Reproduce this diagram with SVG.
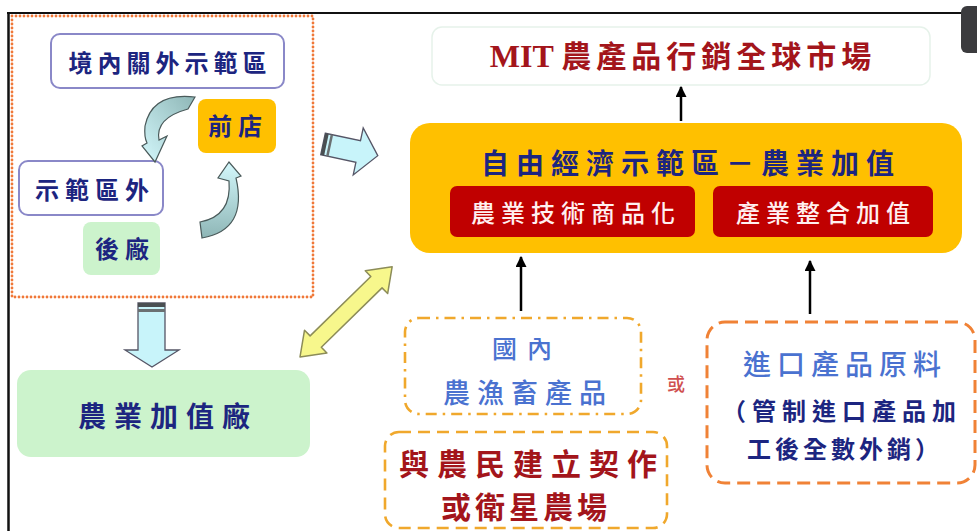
<svg xmlns="http://www.w3.org/2000/svg" width="977" height="531" viewBox="0 0 977 531">
<style>
.cjk{font-family:"Noto Sans CJK TC","Noto Sans CJK SC",sans-serif;text-anchor:middle}
.navy{fill:#1c2580;font-weight:700}
.blue{fill:#4a72d0;font-weight:500}
.dred{fill:#a3151b;font-weight:700}
.white{fill:#fff0f0;font-weight:500}
.dot{fill:none;stroke:#f07838;stroke-width:2.8;stroke-dasharray:0 4;stroke-linecap:round}
.purp{fill:#fff;stroke:#8a88c8;stroke-width:2}
.gold{fill:#ffc000}
.green{fill:#ccf3cc}
.blk{stroke:#000;stroke-width:2.5;fill:none;marker-end:url(#ah)}
.curv{stroke:#4a5a5a;stroke-width:1.2}
.blockc{fill:#c8f4fa;stroke:#556;stroke-width:1.3}
</style>
<defs>
<marker id="ah" viewBox="0 0 10 10" refX="9" refY="5" markerWidth="4.4" markerHeight="4.4" orient="auto" markerUnits="strokeWidth">
<path d="M0,0 L10,5 L0,10 Z" fill="#000"/>
</marker>
<linearGradient id="cg" x1="0" y1="1" x2="1" y2="0">
<stop offset="0" stop-color="#d4f8fc"/>
<stop offset="1" stop-color="#8eb6b6"/>
</linearGradient>
<linearGradient id="cg2" x1="0" y1="1" x2="0" y2="0">
<stop offset="0" stop-color="#8eb6b6"/>
<stop offset="1" stop-color="#d4f8fc"/>
</linearGradient>
</defs>
<rect width="977" height="531" fill="#fff"/>
<g id="frame">
<line x1="7" y1="13" x2="962" y2="13" stroke="#111" stroke-width="2"/>
<line x1="8.5" y1="12" x2="8.5" y2="531" stroke="#111" stroke-width="2.5"/>
<rect x="961" y="6" width="22" height="47" rx="6" fill="#3b3b3e"/>
</g>
<g id="left-zone">
<rect class="dot" x="12" y="16" width="301" height="281"/>
</g>
<g id="n-jingnei">
<rect class="purp" x="51" y="34" width="233" height="54" rx="9"/>
<text class="cjk navy" x="170" y="72" font-size="24" letter-spacing="5">境內關外示範區</text>
</g>
<g id="n-qiandian">
<rect class="gold" x="198" y="99" width="78" height="54" rx="8"/>
<text class="cjk navy" x="238" y="135" font-size="24" letter-spacing="6">前店</text>
</g>
<g id="n-shifanquwai">
<rect class="purp" x="19" y="161" width="144" height="54" rx="9"/>
<text class="cjk navy" x="95" y="199" font-size="24" letter-spacing="6">示範區外</text>
</g>
<g id="n-houchang">
<rect class="green" x="83" y="222" width="77" height="53" rx="8"/>
<text class="cjk navy" x="125" y="258" font-size="24" letter-spacing="6">後廠</text>
</g>
<g id="n-nongye-factory">
<rect class="green" x="17" y="370" width="293" height="87" rx="14"/>
<text class="cjk navy" x="168" y="427" font-size="28" letter-spacing="8">農業加值廠</text>
</g>
<g id="n-mit">
<rect x="432" y="27" width="498" height="58" rx="10" fill="#fff" stroke="#e6f2ea" stroke-width="1.5"/>
<text x="683" y="67" font-size="30" fill="#a3151b" font-weight="700" text-anchor="middle" letter-spacing="5" font-family="Liberation Serif,Noto Sans CJK TC,serif"><tspan font-family="Liberation Serif,serif" letter-spacing="0" font-size="32">MIT </tspan><tspan font-family="Noto Sans CJK TC,sans-serif">農產品行銷全球市場</tspan></text>
</g>
<g id="n-free-zone">
<rect class="gold" x="410" y="123" width="552" height="130" rx="20"/>
<text class="cjk navy" x="691" y="174" font-size="28" letter-spacing="7">自由經濟示範區－農業加值</text>
</g>
<g id="n-tech">
<rect x="450" y="186" width="245" height="51" rx="7" fill="#c00000"/>
<text class="cjk white" x="576" y="222" font-size="24" letter-spacing="6">農業技術商品化</text>
</g>
<g id="n-integrate">
<rect x="713" y="186" width="220" height="51" rx="7" fill="#c00000"/>
<text class="cjk white" x="826" y="222" font-size="24" letter-spacing="6">產業整合加值</text>
</g>
<g id="n-domestic">
<rect x="405" y="318" width="236" height="96" rx="14" fill="none" stroke="#f0a82c" stroke-width="2.6" stroke-dasharray="11 6 2.5 6"/>
<text class="cjk blue" x="527" y="358" font-size="25" letter-spacing="10">國內</text>
<text class="cjk blue" x="528" y="403" font-size="27" letter-spacing="7">農漁畜產品</text>
</g>
<g id="n-or">
<text class="cjk" x="676" y="391" font-size="18" fill="#d05050" font-weight="500">或</text>
</g>
<g id="n-farmers">
<rect x="385" y="432" width="282" height="96" rx="14" fill="none" stroke="#f0a82c" stroke-width="2.6" stroke-dasharray="12 7"/>
<text class="cjk dred" x="532" y="475" font-size="30" letter-spacing="8">與農民建立契作</text>
<text class="cjk dred" x="526" y="518" font-size="30" letter-spacing="4">或衛星農場</text>
</g>
<g id="n-import">
<rect x="707" y="322" width="268" height="161" rx="18" fill="none" stroke="#f08236" stroke-width="3" stroke-dasharray="13 7"/>
<text class="cjk blue" x="845" y="375" font-size="28" letter-spacing="6">進口產品原料</text>
<text class="cjk navy" x="842" y="420" font-size="24" letter-spacing="6">（管制進口產品加</text>
<text class="cjk navy" x="845" y="458" font-size="24" letter-spacing="4">工後全數外銷）</text>
</g>
<g id="connectors">
<path class="curv" fill="url(#cg)" d="M195,97 Q152,92 145,126 Q144,137 147,143 L142,146 L155,162 L167,136 L159,140 Q155,118 188,109 Z"/>
<path class="curv" fill="url(#cg2)" d="M200,222 Q232,216 229,181 L218,178 L229,162 L241,176 L236,178 Q248,230 202,238 Z"/>
<g transform="translate(323,144) rotate(12)">
<polygon class="blockc" points="0,-11 36,-11 36,-24 56,0 36,24 36,11 0,11"/>
<rect x="0" y="-11" width="3.5" height="22" fill="#4a4f52"/>
<rect x="5.5" y="-11" width="2.5" height="22" fill="#6a7072"/>
</g>
<g>
<polygon class="blockc" points="138,303 165,303 165,350 179,350 152,367 125,350 138,350"/>
<rect x="138" y="303" width="27" height="4" fill="#4a4f52"/>
<rect x="138" y="309" width="27" height="3" fill="#6a7072"/>
</g>
<g transform="translate(300,357) rotate(-44.4)">
<polygon points="0,0 22,-16 22,-8 107,-8 107,-16 129,0 107,16 107,8 22,8 22,16" fill="#f7f78c" stroke="#8c8c58" stroke-width="1.5" stroke-linejoin="round"/>
</g>
<line class="blk" x1="681" y1="121" x2="681" y2="87"/>
<line class="blk" x1="521" y1="311" x2="521" y2="257"/>
<line class="blk" x1="810" y1="314" x2="810" y2="261"/>
</g>
</svg>
